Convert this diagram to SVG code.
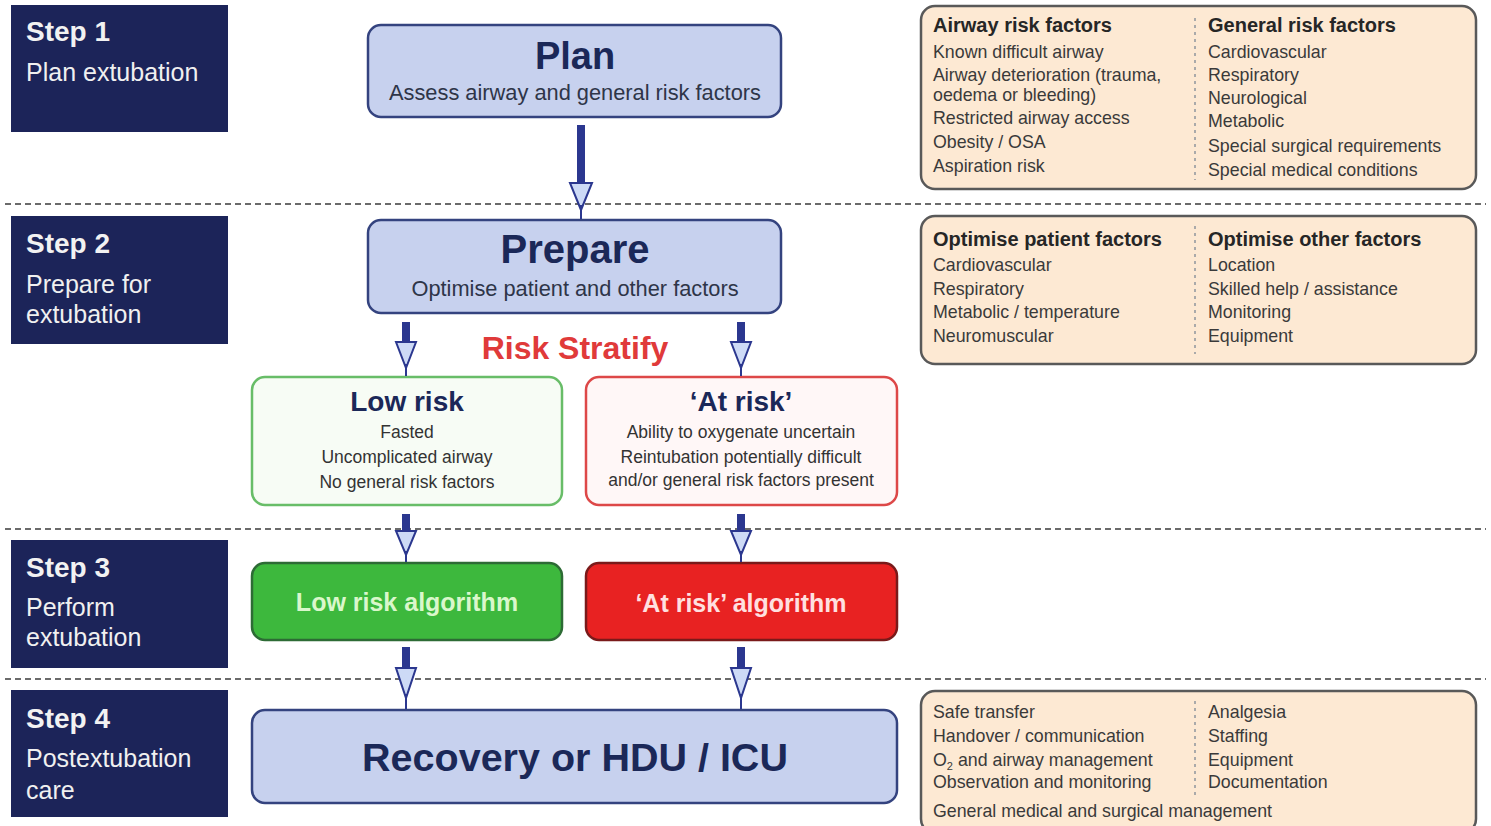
<svg xmlns="http://www.w3.org/2000/svg" width="1491" height="826" viewBox="0 0 1491 826">
<style>
.bg{fill:#ffffff}
.step rect{fill:#1c2459}
.stepT{font-family:"Liberation Sans",Arial,sans-serif;font-size:28px;font-weight:bold;fill:#f2f2f2}
.stepS{font-family:"Liberation Sans",Arial,sans-serif;font-size:25px;fill:#f0f0f0}
.blue{fill:#c7d1ee;stroke:#34437f;stroke-width:2.5}
.title{font-family:"Liberation Sans",Arial,sans-serif;font-weight:bold;fill:#1b2858;text-anchor:middle}
.sub{font-family:"Liberation Sans",Arial,sans-serif;font-size:21.8px;fill:#2e3548;text-anchor:middle}
.peach{fill:#fde9d3;stroke:#595959;stroke-width:2.5}
.rt{font-family:"Liberation Sans",Arial,sans-serif;font-size:17.8px;fill:#3a3a3a}
.rh{font-family:"Liberation Sans",Arial,sans-serif;font-size:20px;font-weight:bold;fill:#262626}
.div{stroke:#aaaaaa;stroke-width:2;stroke-dasharray:3 4}
.dash{stroke:#6b6b6b;stroke-width:2;stroke-dasharray:6 4}
.small{font-family:"Liberation Sans",Arial,sans-serif;font-size:17.5px;fill:#333;text-anchor:middle}
.shaft{fill:#2b378f}
.head{fill:#cddaf6;stroke:#2b378f;stroke-width:2}
.tip{stroke:#2b378f;stroke-width:2}
</style>
<rect class="bg" x="0" y="0" width="1491" height="826"/>

<g id="separators">
<line class="dash" x1="5" y1="204" x2="1486" y2="204"/>
<line class="dash" x1="5" y1="529" x2="1486" y2="529"/>
<line class="dash" x1="5" y1="679" x2="1486" y2="679"/>
</g>

<g id="step1" class="step">
<rect x="11" y="5" width="217" height="127"/>
<text class="stepT" x="26" y="41">Step 1</text>
<text class="stepS" x="26" y="81">Plan extubation</text>
</g>
<g id="step2" class="step">
<rect x="11" y="216" width="217" height="128"/>
<text class="stepT" x="26" y="253">Step 2</text>
<text class="stepS" x="26" y="293">Prepare for</text>
<text class="stepS" x="26" y="323">extubation</text>
</g>
<g id="step3" class="step">
<rect x="11" y="540" width="217" height="128"/>
<text class="stepT" x="26" y="577">Step 3</text>
<text class="stepS" x="26" y="616">Perform</text>
<text class="stepS" x="26" y="646">extubation</text>
</g>
<g id="step4" class="step">
<rect x="11" y="690" width="217" height="127"/>
<text class="stepT" x="26" y="728">Step 4</text>
<text class="stepS" x="26" y="767">Postextubation</text>
<text class="stepS" x="26" y="799">care</text>
</g>

<g id="plan">
<rect class="blue" x="368" y="25" width="413" height="92" rx="13"/>
<text class="title" x="575" y="69" font-size="38">Plan</text>
<text class="sub" x="575" y="100">Assess airway and general risk factors</text>
</g>
<g id="prepare">
<rect class="blue" x="368" y="220" width="413" height="93" rx="13"/>
<text class="title" x="575" y="263" font-size="40">Prepare</text>
<text class="sub" x="575" y="296">Optimise patient and other factors</text>
</g>

<g id="risk-stratify">
<text x="575" y="359" font-family="Liberation Sans,Arial,sans-serif" font-size="32" font-weight="bold" fill="#e03a3a" text-anchor="middle">Risk Stratify</text>
</g>

<g id="low-risk">
<rect x="252" y="377" width="310" height="128" rx="13" fill="#f7fcf5" stroke="#68bd68" stroke-width="2.5"/>
<text class="title" x="407" y="411" font-size="28" fill="#1f2a4a">Low risk</text>
<text class="small" x="407" y="438">Fasted</text>
<text class="small" x="407" y="463">Uncomplicated airway</text>
<text class="small" x="407" y="488">No general risk factors</text>
</g>
<g id="at-risk">
<rect x="586" y="377" width="311" height="128" rx="13" fill="#fff7f7" stroke="#dd4848" stroke-width="2.5"/>
<text class="title" x="741" y="411" font-size="28">‘At risk’</text>
<text class="small" x="741" y="438">Ability to oxygenate uncertain</text>
<text class="small" x="741" y="463">Reintubation potentially difficult</text>
<text class="small" x="741" y="486">and/or general risk factors present</text>
</g>

<g id="low-risk-algorithm">
<rect x="252" y="563" width="310" height="77" rx="13" fill="#3db83d" stroke="#2d6b35" stroke-width="2.5"/>
<text x="407" y="611" font-family="Liberation Sans,Arial,sans-serif" font-size="25" font-weight="bold" fill="#daf7cb" text-anchor="middle">Low risk algorithm</text>
</g>
<g id="at-risk-algorithm">
<rect x="586" y="563" width="311" height="77" rx="13" fill="#e82222" stroke="#7a1a1a" stroke-width="2.5"/>
<text x="741" y="612" font-family="Liberation Sans,Arial,sans-serif" font-size="25" font-weight="bold" fill="#ffe0e0" text-anchor="middle">‘At risk’ algorithm</text>
</g>

<g id="recovery">
<rect class="blue" x="252" y="710" width="645" height="93" rx="13"/>
<text class="title" x="575" y="771" font-size="39.5">Recovery or HDU / ICU</text>
</g>

<g id="risk-factors">
<rect class="peach" x="921" y="6" width="555" height="183" rx="14"/>
<line class="div" x1="1195" y1="18" x2="1195" y2="180"/>
<text class="rh" x="933" y="32">Airway risk factors</text>
<text class="rt" x="933" y="58">Known difficult airway</text>
<text class="rt" x="933" y="81">Airway deterioration (trauma,</text>
<text class="rt" x="933" y="101">oedema or bleeding)</text>
<text class="rt" x="933" y="124">Restricted airway access</text>
<text class="rt" x="933" y="148">Obesity / OSA</text>
<text class="rt" x="933" y="172">Aspiration risk</text>
<text class="rh" x="1208" y="32">General risk factors</text>
<text class="rt" x="1208" y="58">Cardiovascular</text>
<text class="rt" x="1208" y="81">Respiratory</text>
<text class="rt" x="1208" y="104">Neurological</text>
<text class="rt" x="1208" y="127">Metabolic</text>
<text class="rt" x="1208" y="152">Special surgical requirements</text>
<text class="rt" x="1208" y="176">Special medical conditions</text>
</g>

<g id="optimise-factors">
<rect class="peach" x="921" y="216" width="555" height="148" rx="14"/>
<line class="div" x1="1195" y1="226" x2="1195" y2="354"/>
<text class="rh" x="933" y="246">Optimise patient factors</text>
<text class="rt" x="933" y="271">Cardiovascular</text>
<text class="rt" x="933" y="295">Respiratory</text>
<text class="rt" x="933" y="318">Metabolic / temperature</text>
<text class="rt" x="933" y="342">Neuromuscular</text>
<text class="rh" x="1208" y="246">Optimise other factors</text>
<text class="rt" x="1208" y="271">Location</text>
<text class="rt" x="1208" y="295">Skilled help / assistance</text>
<text class="rt" x="1208" y="318">Monitoring</text>
<text class="rt" x="1208" y="342">Equipment</text>
</g>

<g id="postextubation-care">
<rect class="peach" x="921" y="691" width="555" height="142" rx="14"/>
<line class="div" x1="1195" y1="701" x2="1195" y2="795"/>
<text class="rt" x="933" y="718">Safe transfer</text>
<text class="rt" x="933" y="742">Handover / communication</text>
<text class="rt" x="933" y="766">O<tspan font-size="11" dy="4">2</tspan><tspan dy="-4"> and airway management</tspan></text>
<text class="rt" x="933" y="788">Observation and monitoring</text>
<text class="rt" x="933" y="817">General medical and surgical management</text>
<text class="rt" x="1208" y="718">Analgesia</text>
<text class="rt" x="1208" y="742">Staffing</text>
<text class="rt" x="1208" y="766">Equipment</text>
<text class="rt" x="1208" y="788">Documentation</text>
</g>

<g id="connectors">
<!-- Plan to Prepare -->
<rect class="shaft" x="577" y="125" width="8" height="58"/>
<polygon class="head" points="570,183 592,183 581,210"/>
<line class="tip" x1="581" y1="205" x2="581" y2="219"/>
<!-- Prepare to Low risk -->
<rect class="shaft" x="402" y="322" width="8" height="20"/>
<polygon class="head" points="396,342 416,342 406,368"/>
<line class="tip" x1="406" y1="364" x2="406" y2="376"/>
<!-- Prepare to At risk -->
<rect class="shaft" x="737" y="322" width="8" height="20"/>
<polygon class="head" points="731,342 751,342 741,368"/>
<line class="tip" x1="741" y1="364" x2="741" y2="376"/>
<!-- Low risk to Low risk algorithm -->
<rect class="shaft" x="402" y="514" width="8" height="17"/>
<polygon class="head" points="396,531 416,531 406,555"/>
<line class="tip" x1="406" y1="551" x2="406" y2="562"/>
<!-- At risk to At risk algorithm -->
<rect class="shaft" x="737" y="514" width="8" height="17"/>
<polygon class="head" points="731,531 751,531 741,555"/>
<line class="tip" x1="741" y1="551" x2="741" y2="562"/>
<!-- Low risk algorithm to Recovery -->
<rect class="shaft" x="402" y="647" width="8" height="21"/>
<polygon class="head" points="396,668 416,668 406,698"/>
<line class="tip" x1="406" y1="694" x2="406" y2="709"/>
<!-- At risk algorithm to Recovery -->
<rect class="shaft" x="737" y="647" width="8" height="21"/>
<polygon class="head" points="731,668 751,668 741,698"/>
<line class="tip" x1="741" y1="694" x2="741" y2="709"/>
</g>
</svg>
